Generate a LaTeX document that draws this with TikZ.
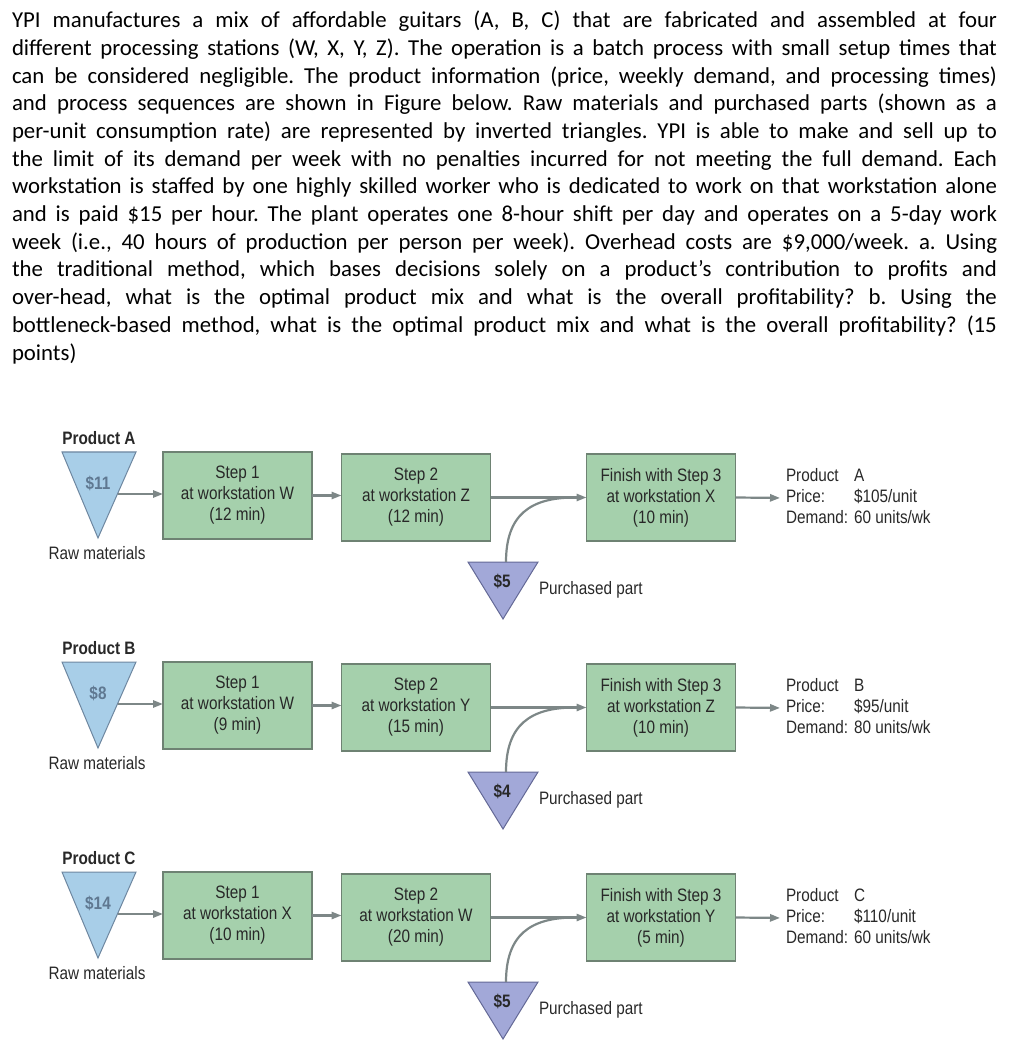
\documentclass[tikz,border=0pt]{standalone}
\usepackage{fontspec}
\setmainfont{Carlito}
\newfontfamily\diagfont[FakeStretch=0.85]{Liberation Sans}
\usetikzlibrary{arrows.meta}
\definecolor{boxfill}{RGB}{165,208,172}
\definecolor{boxedge}{RGB}{110,130,115}
\definecolor{trifill}{RGB}{168,206,232}
\definecolor{triedge}{RGB}{110,135,160}
\definecolor{partfill}{RGB}{162,168,216}
\definecolor{partedge}{RGB}{100,105,150}
\definecolor{arrowgray}{RGB}{125,135,135}
\definecolor{diagtext}{RGB}{40,40,40}
\definecolor{tritext}{RGB}{95,120,145}
\newcommand\jline[1]{\hbox to 492.5pt{\spaceskip=0pt\xspaceskip=0pt\frenchspacing #1}}
\begin{document}
\begin{tikzpicture}[x=0.5pt,y=-0.5pt,
  every node/.style={inner sep=0pt, outer sep=0pt},
  dtext/.style={font=\diagfont\fontsize{9}{10.5}\selectfont, text=diagtext},
  btext/.style={font=\diagfont\bfseries\fontsize{9}{10.5}\selectfont, text=diagtext},
  stepbox/.style={dtext, draw=boxedge, line width=0.6pt, fill=boxfill, minimum width=74.5pt, minimum height=43.5pt, align=center},
  flow/.style={draw=arrowgray, line width=1.1pt, -{Triangle[length=5pt,width=3.6pt]}},
  feed/.style={draw=arrowgray, line width=1.1pt},
  rawtri/.style={fill=trifill, draw=triedge, line width=0.5pt},
  parttri/.style={fill=partfill, draw=partedge, line width=0.5pt},
]
\useasboundingbox (0,0) rectangle (1024,1052);
\node[anchor=north west, text width=492.5pt, font=\fontsize{11.4}{13.85}\selectfont] (para) at (12,11) {%
\jline{YPI manufactures a mix of affordable guitars (A, B, C) that are fabricated and assembled at four}
\jline{different processing stations (W, X, Y, Z). The operation is a batch process with small setup times that}
\jline{can be considered negligible. The product information (price, weekly demand, and processing times)}
\jline{and process sequences are shown in Figure below. Raw materials and purchased parts (shown as a}
\jline{per-unit consumption rate) are represented by inverted triangles. YPI is able to make and sell up to}
\jline{the limit of its demand per week with no penalties incurred for not meeting the full demand. Each}
\jline{workstation is staffed by one highly skilled worker who is dedicated to work on that workstation alone}
\jline{and is paid \$15 per hour. The plant operates one 8-hour shift per day and operates on a 5-day work}
\jline{week (i.e., 40 hours of production per person per week). Overhead costs are \$9,000/week. a. Using}
\jline{the traditional method, which bases decisions solely on a product's contribution to profits and}
\jline{over-head, what is the optimal product mix and what is the overall profitability? b. Using the}
\jline{bottleneck-based method, what is the optimal product mix and what is the overall profitability? (15}
\hbox{points)}};
\foreach \pr/\dy/\raw/\wsa/\tma/\wsb/\tmb/\wsc/\tmc/\pp/\price/\dem in {
 A/0/\$11/W/12/Z/12/X/10/\$5/105/60,
 B/210/\$8/W/9/Y/15/Z/10/\$4/95/80,
 C/420/\$14/X/10/W/20/Y/5/\$5/110/60}
{
 \node[btext] (lab\pr) at (99,{438+\dy}) {Product \pr};
 \draw[rawtri] (62,{452+\dy}) -- (136,{452+\dy}) -- (98,{538+\dy}) -- cycle;
 \node[btext, text=tritext] (raw\pr) at (98,{483+\dy}) {\raw};
 \coordinate (rawout\pr) at (117.5,{494+\dy});
 \node[dtext] (rawlab\pr) at (97,{553+\dy}) {Raw materials};
 \node[stepbox] (sa\pr) at (237.5,{495.5+\dy}) {Step 1\\at workstation \wsa\\(\tma\ min)};
 \node[stepbox] (sb\pr) at (416,{497.5+\dy}) {Step 2\\at workstation \wsb\\(\tmb\ min)};
 \node[stepbox] (sc\pr) at (661,{497.5+\dy}) {Finish with Step 3\\at workstation \wsc\\(\tmc\ min)};
 \draw[flow] (rawout\pr) -- (sa\pr.west |- rawout\pr);
 \draw[flow] (sa\pr.east) -- (sb\pr.west |- sa\pr.east);
 \draw[flow] (sb\pr.east) -- (sc\pr.west);
 \draw[parttri] (468,{562+\dy}) -- (538,{562+\dy}) -- (503,{619+\dy}) -- cycle;
 \node[btext] (part\pr) at (502,{581+\dy}) {\pp};
 \coordinate (partout\pr) at (506,{562+\dy});
 \coordinate (join\pr) at (575,{497.5+\dy});
 \draw[feed] (partout\pr) .. controls (506,{515+\dy}) and (530,{497.5+\dy}) .. (join\pr);
 \node[dtext, anchor=west] (plab\pr) at (539,{590+\dy}) {Purchased part};
 \node[dtext, anchor=west] (info\pr) at (786,{498+\dy}) {\begin{tabular}{@{}l@{\hspace{3pt}}l@{}}Product & \pr\\Price: & \$\price/unit\\Demand: & \dem\ units/wk\end{tabular}};
 \draw[flow, shorten >=3pt] (sc\pr.east) -- (info\pr.west);
}
\end{tikzpicture}
\end{document}
